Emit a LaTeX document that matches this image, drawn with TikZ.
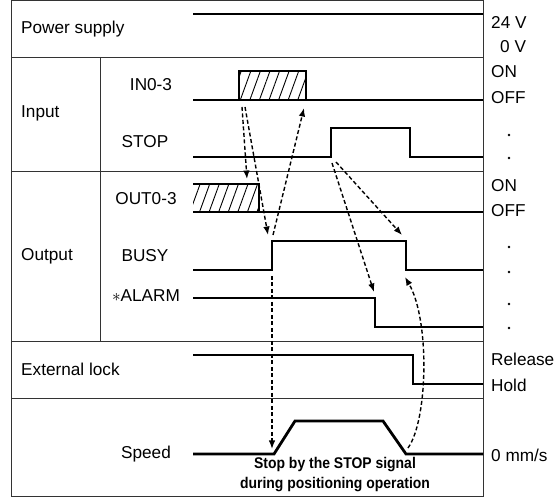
\documentclass[tikz,border=0pt]{standalone}
\usepackage{fontspec}
\setmainfont{Liberation Sans}
\usetikzlibrary{arrows.meta, patterns.meta}

\begin{document}
\begin{tikzpicture}[x=1pt, y=-1pt, >=Latex,
  grid/.style={line width=0.9pt, black!80},
  sig/.style={line width=2.8pt, line join=miter},
  hatch/.style={pattern={Lines[angle=70, distance=9pt, line width=0.9pt]}},
  cause/.style={line width=1.4pt, dash pattern=on 4pt off 2.5pt,
                -{Latex[length=8.5pt, width=6.5pt]}},
  lbl/.style={font=\fontsize{17.2}{19}\selectfont, inner sep=0pt},
  lvl/.style={lbl, anchor=west},
  dot/.style={circle, fill, inner sep=0pt, minimum size=2.6pt}]

\useasboundingbox (0,0) rectangle (558,497);

% ---- Frame ---------------------------------------------------------------
\draw[grid] (11,0.5) -- (483,0.5);
\draw[grid] (11,0) -- (11,497);
\draw[grid] (483,0) -- (483,497);
\draw[grid] (11,496.5) -- (483,496.5);
\foreach \y in {57,171,341,398}{\draw[grid] (11,\y) -- (483,\y);}
\draw[grid] (100,57) -- (100,341);

% ---- Row labels ------------------------------------------------------------
\node[lbl, anchor=west] (power) at (21,29) {Power supply};
\node[lbl, anchor=west] (input) at (21,113) {Input};
\node[lbl] (in03) at (151,85) {IN0-3};
\node[lbl] (stop) at (145,142) {STOP};
\node[lbl, anchor=west] (output) at (21,256) {Output};
\node[lbl] (out03) at (146,199) {OUT0-3};
\node[lbl] (busy) at (145,256) {BUSY};
\node[lbl] (alarm) at (146,296) {$\ast$ALARM};
\node[lbl, anchor=west] (extlock) at (21,369) {External lock};
\node[lbl] (speed) at (146,454) {Speed};

% ---- Level labels ----------------------------------------------------------
\node[lvl] (v24) at (491,22) {24 V};
\node[lvl] (v0) at (500,47) {0 V};
\node[lvl] (inon) at (491,72) {ON};
\node[lvl] (inoff) at (491,98) {OFF};
\node[dot] (stopd1) at (509,135) {};
\node[dot] (stopd2) at (509,158) {};
\node[lvl] (outon) at (491,186) {ON};
\node[lvl] (outoff) at (491,211) {OFF};
\node[dot] (busyd1) at (509,247) {};
\node[dot] (busyd2) at (509,272) {};
\node[dot] (alarmd1) at (509,304) {};
\node[dot] (alarmd2) at (509,328) {};
\node[lvl] (release) at (491,359) {Release};
\node[lvl] (hold) at (491,385) {Hold};
\node[lvl] (zero) at (491,455) {0 mm/s};

% ---- Signals ---------------------------------------------------------------
\draw[sig] (193,14) -- (483,14);

\fill[hatch] (239,71) rectangle (306,100);
\draw[sig] (193,100) -- (483,100);
\draw[sig] (239,100) -- (239,71) -- (306,71) -- (306,100);

\draw[sig] (193,157) -- (331,157) -- (331,128) -- (410,128) -- (410,157) -- (483,157);

\fill[hatch] (193,184) rectangle (259,212);
\draw[sig] (193,212) -- (483,212);
\draw[sig] (193,184) -- (259,184) -- (259,212);

\draw[sig] (193,270) -- (272,270) -- (272,241) -- (406,241) -- (406,270) -- (483,270);
\draw[sig] (193,298) -- (375,298) -- (375,327) -- (483,327);
\draw[sig] (193,355) -- (413,355) -- (413,384) -- (483,384);
\draw[sig] (193,454) -- (274,454) -- (295,421) -- (383,421) -- (406,454) -- (483,454);

% ---- Cause and effect ------------------------------------------------------
\coordinate (inrise1) at (242,107);
\coordinate (inrise2) at (245,107);
\coordinate (infall) at (304,108);
\coordinate (outfall) at (247,179);
\coordinate (busyrise) at (268,235);
\coordinate (busyup) at (273,235);
\coordinate (busylow) at (272,276);
\coordinate (speedstart) at (272,449);
\coordinate (stoprise1) at (332,163);
\coordinate (stoprise2) at (336,162);
\coordinate (alarmfall) at (374,292);
\coordinate (busyfall) at (402,235);
\coordinate (speedend) at (408,448);
\coordinate (busyoff) at (405,277);

\draw[cause] (inrise1) -- (outfall);
\draw[cause] (inrise2) -- (busyrise);
\draw[cause] (busyup) -- (infall);
\draw[cause] (busylow) -- (speedstart);
\draw[cause] (stoprise1) -- (alarmfall);
\draw[cause] (stoprise2) -- (busyfall);
\draw[cause] (speedend) .. controls (428,420) and (430,320) .. (busyoff);

\node[align=center, font=\fontsize{15.5}{20}\bfseries\selectfont, inner sep=0pt]
  (note) at (335,475) {\scalebox{0.9}[1]{Stop by the STOP signal}\\
                       \scalebox{0.9}[1]{during positioning operation}};

\end{tikzpicture}
\end{document}
